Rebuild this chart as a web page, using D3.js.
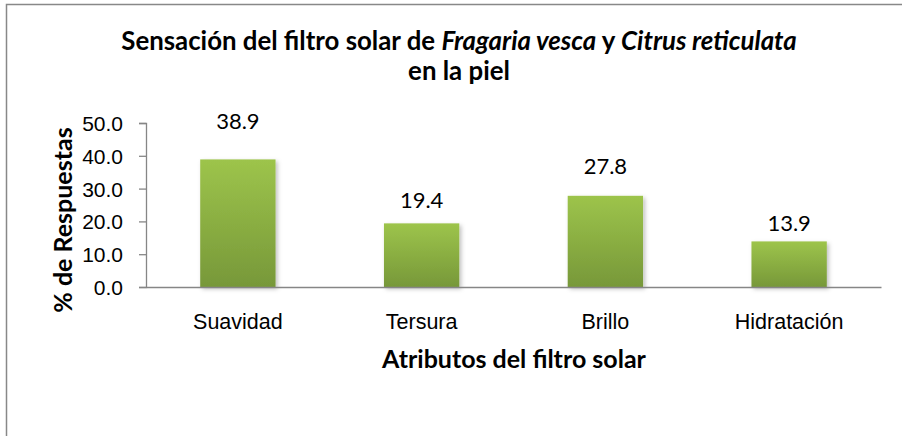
<!DOCTYPE html>
<html>
<head>
<meta charset="utf-8">
<script src="https://cdn.jsdelivr.net/npm/d3@7"></script>
<style>
  html, body { margin: 0; padding: 0; background: #fff; }
  svg { display: block; font-family: Lato, "Open Sans", sans-serif; }
</style>
</head>
<body>
<svg id="chart" width="902" height="436"></svg>
<script>
// Survey results: perceived attributes of the sunscreen
const categories = ["Suavidad", "Tersura", "Brillo", "Hidratación"];
const values = [38.9, 19.4, 27.8, 13.9];
const yTicks = [0, 10, 20, 30, 40, 50];

const svg = d3.select("#chart");
const W = 902, H = 436;
const margin = { left: 146, right: 21, top: 123, bottom: 149 };
const plotW = W - margin.left - margin.right;
const plotH = H - margin.top - margin.bottom;

// outer chart border (extends past the right and bottom edges)
svg.append("rect")
  .attr("x", 6.5).attr("y", 4.5)
  .attr("width", 920).attr("height", 460)
  .attr("fill", "#fff").attr("stroke", "#888").attr("stroke-width", 1.5);

const defs = svg.append("defs");
const grad = defs.append("linearGradient")
  .attr("id", "barFill").attr("x1", 0).attr("y1", 0).attr("x2", 0).attr("y2", 1);
grad.append("stop").attr("offset", "0%").attr("stop-color", "#9dc44b");
grad.append("stop").attr("offset", "100%").attr("stop-color", "#779839");

const shadow = defs.append("filter").attr("id", "barShadow")
  .attr("x", "-20%").attr("y", "-10%").attr("width", "140%").attr("height", "130%");
shadow.append("feDropShadow")
  .attr("dx", 2).attr("dy", 2).attr("stdDeviation", 2)
  .attr("flood-color", "#000").attr("flood-opacity", 0.25);

const g = svg.append("g").attr("transform", `translate(${margin.left},${margin.top})`);

const x = d3.scaleBand().domain(categories).range([0, plotW]).paddingInner(0.59).paddingOuter(0.295);
const y = d3.scaleLinear().domain([0, 50]).range([plotH, 0]);
// value labels sit above each bar on a slightly stretched scale
const yLabel = d3.scaleLinear().domain([0, 50]).range([plotH, plotH - 203]);

const data = categories.map((c, i) => ({ cat: c, v: values[i] }));

// bars
g.selectAll("rect.bar").data(data).join("rect")
  .attr("class", "bar")
  .attr("x", d => x(d.cat))
  .attr("y", d => y(d.v))
  .attr("width", x.bandwidth())
  .attr("height", d => plotH - y(d.v))
  .attr("fill", "url(#barFill)")
  .attr("filter", "url(#barShadow)");

// y axis
const yAxis = g.append("g")
  .call(d3.axisLeft(y).tickValues(yTicks).tickFormat(d3.format(".1f")).tickSize(7).tickPadding(16));
yAxis.select(".domain").attr("stroke", "#868686").attr("stroke-width", 1.3);
yAxis.selectAll(".tick line").attr("stroke", "#868686").attr("stroke-width", 1.3);
yAxis.selectAll(".tick text").attr("fill", "#000").style("font-size", "21px").attr("dy", "0.36em");

// x axis
const xAxis = g.append("g").attr("transform", `translate(0,${plotH})`)
  .call(d3.axisBottom(x).tickSize(0).tickPadding(27));
xAxis.select(".domain").attr("stroke", "#868686").attr("stroke-width", 1.3);
xAxis.selectAll(".tick text").attr("fill", "#000").style("font-size", "21.5px");

// value labels
g.selectAll("text.val").data(data).join("text")
  .attr("class", "val")
  .attr("x", d => x(d.cat) + x.bandwidth() / 2)
  .attr("y", d => yLabel(d.v))
  .attr("text-anchor", "middle")
  .style("font-size", "22px")
  .attr("fill", "#000")
  .text(d => d.v.toFixed(1));

// chart title
const title = svg.append("text")
  .attr("x", 459).attr("y", 50)
  .attr("text-anchor", "middle")
  .style("font-size", "25.8px").style("font-weight", "bold");
title.append("tspan").text("Sensación del filtro solar de ");
title.append("tspan").style("font-style", "italic").text("Fragaria vesca");
title.append("tspan").text(" y ");
title.append("tspan").style("font-style", "italic").text("Citrus reticulata");
svg.append("text")
  .attr("x", 459).attr("y", 80)
  .attr("text-anchor", "middle")
  .style("font-size", "25.8px").style("font-weight", "bold")
  .text("en la piel");

// axis titles
svg.append("text")
  .attr("x", 514).attr("y", 368)
  .attr("text-anchor", "middle")
  .style("font-size", "25px").style("font-weight", "bold")
  .text("Atributos del filtro solar");

svg.append("text")
  .attr("transform", "translate(72,220) rotate(-90)")
  .attr("text-anchor", "middle")
  .style("font-size", "25px").style("font-weight", "bold")
  .text("% de Respuestas");
</script>
</body>
</html>
